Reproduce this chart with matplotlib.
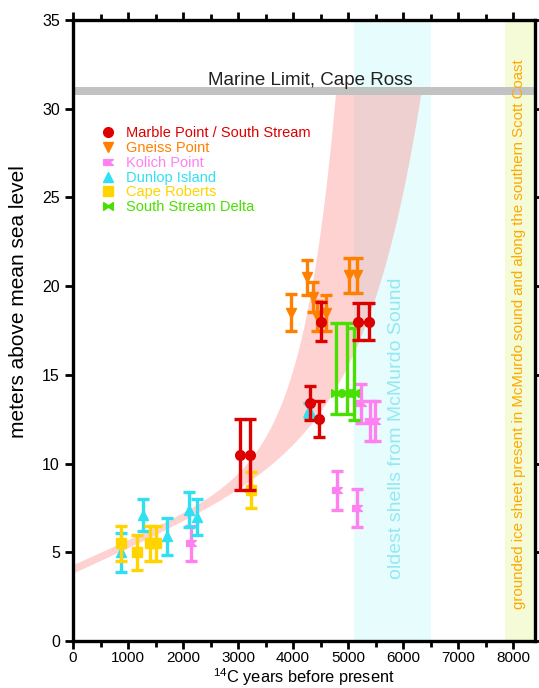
import numpy as np
import matplotlib
matplotlib.use("Agg")
import matplotlib.pyplot as plt
from matplotlib.path import Path
from matplotlib.lines import Line2D

plt.rcParams['font.family'] = ['Liberation Sans', 'DejaVu Sans']
plt.rcParams['mathtext.fontset'] = 'custom'
plt.rcParams['mathtext.rm'] = 'Liberation Sans'

# ---- radiocarbon ages (14C yr BP) and elevations (m) ----
marble_x = [3030, 3210, 4300, 4470, 4510, 5180, 5390]
marble_y = [10.5, 10.5, 13.4, 12.5, 18.0, 18.0, 18.0]
marble_err = [2.0, 2.0, 0.95, 1.0, 1.1, 1.05, 1.05]

gneiss_x = [3960, 4260, 4370, 4430, 4600, 5010, 5160]
gneiss_y = [18.5, 20.5, 19.4, 18.3, 18.5, 20.6, 20.6]
gneiss_err = [1.05, 1.0, 0.85, 0.85, 1.0, 1.0, 1.0]

kolich_x = [2140, 4800, 5170, 5240, 5400, 5490]
kolich_y = [5.5, 8.5, 7.5, 13.4, 12.4, 12.4]
kolich_err = [1.0, 1.1, 1.05, 1.1, 1.1, 1.1]

dunlop_x = [870, 1270, 1700, 2115, 2260, 4290]
dunlop_y = [5.0, 7.1, 5.9, 7.4, 7.0, 13.0]
dunlop_err = [1.1, 0.9, 1.05, 1.0, 1.0, 0.4]

roberts_x = [870, 1170, 1400, 1510, 3240]
roberts_y = [5.5, 5.0, 5.5, 5.5, 8.5]
roberts_err = [1.0, 1.0, 1.0, 1.0, 1.0]

delta_x = [4790, 4990, 5100]
delta_y = [14.0, 14.0, 14.0]
delta_err_lo = [1.2, 1.2, 1.55]
delta_err_hi = [3.9, 3.9, 3.65]

marine_limit = 31.0
oldest_shells = (5100, 6500)
grounded_ice = (7850, 8400)

# envelope of the emergence curve (parameters of the two bounding curves)
upper_pars = (4.3, 0.001376, 0.007024, 600.0)
lower_pars = (3.8, 0.001374, 0.03297, 1000.0)

# marker shapes
flag = Path([(-1, -0.6), (1, -0.6), (0.3, 0), (1, 0.6), (-1, 0.6), (-1, -0.6)],
            [Path.MOVETO] + [Path.LINETO] * 4 + [Path.CLOSEPOLY])
bowtie = Path([(-1, -0.8), (0, -0.15), (1, -0.8), (1, 0.8), (0, 0.15), (-1, 0.8), (-1, -0.8)],
              [Path.MOVETO] + [Path.LINETO] * 5 + [Path.CLOSEPOLY])

series = [
    # label, color, marker, x, y, yerr
    ("Kolich Point", "#ff80f0", flag, kolich_x, kolich_y, kolich_err),
    ("Dunlop Island", "#30e0f2", "^", dunlop_x, dunlop_y, dunlop_err),
    ("Cape Roberts", "#ffd400", "s", roberts_x, roberts_y, roberts_err),
    ("South Stream Delta", "#48e000", bowtie, delta_x, delta_y, [delta_err_lo, delta_err_hi]),
    ("Gneiss Point", "#ff8000", "v", gneiss_x, gneiss_y, gneiss_err),
    ("Marble Point / South Stream", "#dd0000", "o", marble_x, marble_y, marble_err),
]
legend_order = ["Marble Point / South Stream", "Gneiss Point", "Kolich Point",
                "Dunlop Island", "Cape Roberts", "South Stream Delta"]


def curve(x, p):
    a, b, c, tau = p
    return a + b * x + c * np.exp(x / tau)


fig = plt.figure(figsize=(5.39, 6.88), dpi=100)
ax = fig.add_axes([73 / 539, 47 / 688, 462 / 539, 621 / 688])

# shaded periods
ax.axvspan(*oldest_shells, color="#e6fcfd", lw=0, zorder=0)
ax.axvspan(*grounded_ice, color="#f4fbd6", lw=0, zorder=0)

# pink envelope, capped at the marine limit
xs = np.linspace(0, 6600, 800)
lo = curve(xs, lower_pars)
hi = np.minimum(curve(xs, upper_pars), marine_limit)
ok = lo <= marine_limit
ax.fill_between(xs[ok], lo[ok], hi[ok], color=(1.0, 0.5, 0.5), alpha=0.35, lw=0, zorder=1)

# marine limit bar
ax.axhspan(marine_limit - 0.25, marine_limit + 0.25, color="#c2c2c2", lw=0, zorder=2)
ax.text(4310, marine_limit + 0.35, "Marine Limit, Cape Ross", ha="center", va="baseline",
        fontsize=13.5, color="#222222", zorder=3)

ax.text(5890, 12.0, "oldest shells from McMurdo Sound", rotation=90, ha="center", va="center",
        fontsize=14, color="#95e8f3", zorder=3)
ax.text(8110, 17.3, "grounded ice sheet present in McMurdo sound and along the southern Scott Coast",
        rotation=90, ha="center", va="center", fontsize=10.8, color="#ffa800", zorder=3)

handles = {}
for i, (label, col, mk, x, y, err) in enumerate(series):
    ax.errorbar(x, y, yerr=err, fmt="none", ecolor=col, elinewidth=2.4,
                capsize=4, capthick=2.4, zorder=4 + i)
    ax.plot(x, y, ls="none", marker=mk, ms=7, color=col, mec=col, zorder=4.5 + i)
    handles[label] = Line2D([], [], ls="none", marker=mk, ms=7, color=col, mec=col)

leg = ax.legend([handles[k] for k in legend_order], legend_order, loc="upper left",
                bbox_to_anchor=(0.035, 0.845), frameon=False, fontsize=10.5,
                labelspacing=0.05, handletextpad=0.6, handlelength=1.2,
                labelcolor="markerfacecolor", borderpad=0.2)

ax.set_xlim(0, 8400)
ax.set_ylim(0, 35)
ax.set_xticks(np.arange(0, 8001, 1000))
ax.set_xticks(np.arange(500, 8400, 1000), minor=True)
ax.set_yticks(np.arange(0, 36, 5))
ax.tick_params(axis="both", which="both", direction="out", width=2, labelsize=11.5,
               top=True, right=True, labeltop=False, labelright=False)
ax.tick_params(axis="x", labelsize=11)
ax.tick_params(which="major", length=6)
ax.tick_params(axis="x", which="major", pad=1)
ax.tick_params(which="minor", length=4)
for s in ax.spines.values():
    s.set_linewidth(2.4)

ax.set_xlabel(r"$^{14}$C years before present", fontsize=11.8)
ax.xaxis.set_label_coords(0.5, -0.041)
ax.set_ylabel("meters above mean sea level", fontsize=15)
ax.yaxis.set_label_coords(-0.097, 0.546)

fig.savefig("out.png", dpi=100)
